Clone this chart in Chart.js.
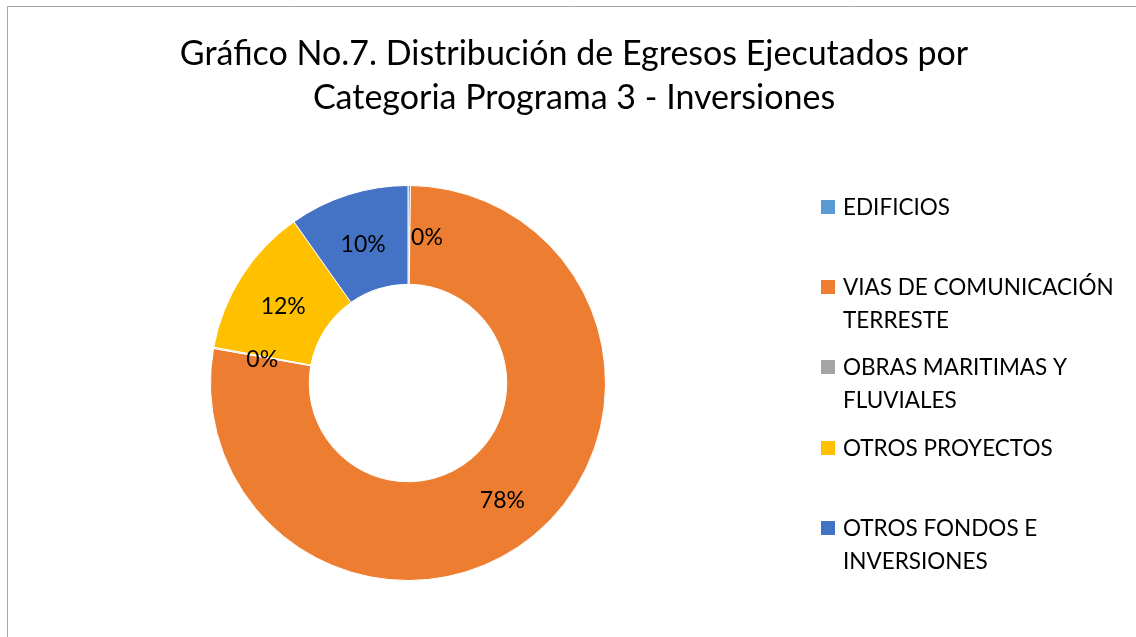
<!DOCTYPE html>
<html>
<head>
<meta charset="utf-8">
<script src="https://cdn.jsdelivr.net/npm/chart.js@4/dist/chart.umd.min.js"></script>
<style>
  html, body { margin: 0; padding: 0; background: #fff; }
  #wrap { width: 1136px; height: 637px; position: relative; }
</style>
</head>
<body>
<div id="wrap"><canvas id="donut" width="1136" height="637"></canvas></div>
<script>
const titleLines = ['Gráfico No.7. Distribución de Egresos Ejecutados por', 'Categoria Programa 3 - Inversiones'];
const categories = ['EDIFICIOS', 'VIAS DE COMUNICACIÓN TERRESTE', 'OBRAS MARITIMAS Y FLUVIALES', 'OTROS PROYECTOS', 'OTROS FONDOS E INVERSIONES'];
const legendLines = [['EDIFICIOS'], ['VIAS DE COMUNICACIÓN', 'TERRESTE'], ['OBRAS MARITIMAS Y', 'FLUVIALES'], ['OTROS PROYECTOS'], ['OTROS FONDOS E', 'INVERSIONES']];
const shares = [0.2, 77.6, 0.1, 12.3, 9.8];   // percent of total
const colors = ['#5B9BD5', '#ED7D31', '#A5A5A5', '#FFC000', '#4472C4'];
const FONT = 'Lato, "Open Sans", sans-serif';

const total = shares.reduce((a, b) => a + b, 0);

// title, frame, legend and percentage labels
const decorations = {
    id: 'decorations',
    afterDraw(chart) {
        const c = chart.ctx;
        c.save();
        // outer frame
        c.strokeStyle = '#a6a6a6';
        c.lineWidth = 1;
        c.beginPath();
        c.moveTo(7.5, 640);
        c.lineTo(7.5, 6.5);
        c.lineTo(1140, 6.5);
        c.stroke();

        // title
        c.fillStyle = '#000';
        c.textAlign = 'center';
        c.textBaseline = 'middle';
        c.font = '34px ' + FONT;
        c.fillText(titleLines[0], 574, 54);
        c.fillText(titleLines[1], 574, 98);

        // percentage labels
        const meta = chart.getDatasetMeta(0);
        c.font = '23px ' + FONT;
        meta.data.forEach((arc, i) => {
            const p = arc.tooltipPosition();
            const dx = i === 0 ? 18 : 0;
            const pct = Math.round(shares[i] / total * 100) + '%';
            c.fillText(pct, p.x + dx, p.y + 3);
        });

        // legend
        c.textAlign = 'left';
        c.font = '22.5px ' + FONT;
        const rowY = [207, 287, 367, 448, 528];
        legendLines.forEach((lines, i) => {
            c.fillStyle = colors[i];
            c.fillRect(821, rowY[i] - 7, 14, 14);
            c.fillStyle = '#000';
            lines.forEach((t, j) => c.fillText(t, 843, rowY[i] + j * 33 + 1));
        });
        c.restore();
    }
};

new Chart(document.getElementById('donut'), {
    type: 'doughnut',
    data: {
        labels: categories,
        datasets: [{
            data: shares,
            backgroundColor: colors,
            borderColor: '#ffffff',
            borderWidth: 1
        }]
    },
    options: {
        responsive: false,
        animation: false,
        cutout: '50%',
        layout: { padding: { left: 210, right: 530, top: 185, bottom: 56 } },
        plugins: {
            legend: { display: false },
            title: { display: false },
            tooltip: { enabled: false }
        }
    },
    plugins: [decorations]
});
</script>
</body>
</html>
